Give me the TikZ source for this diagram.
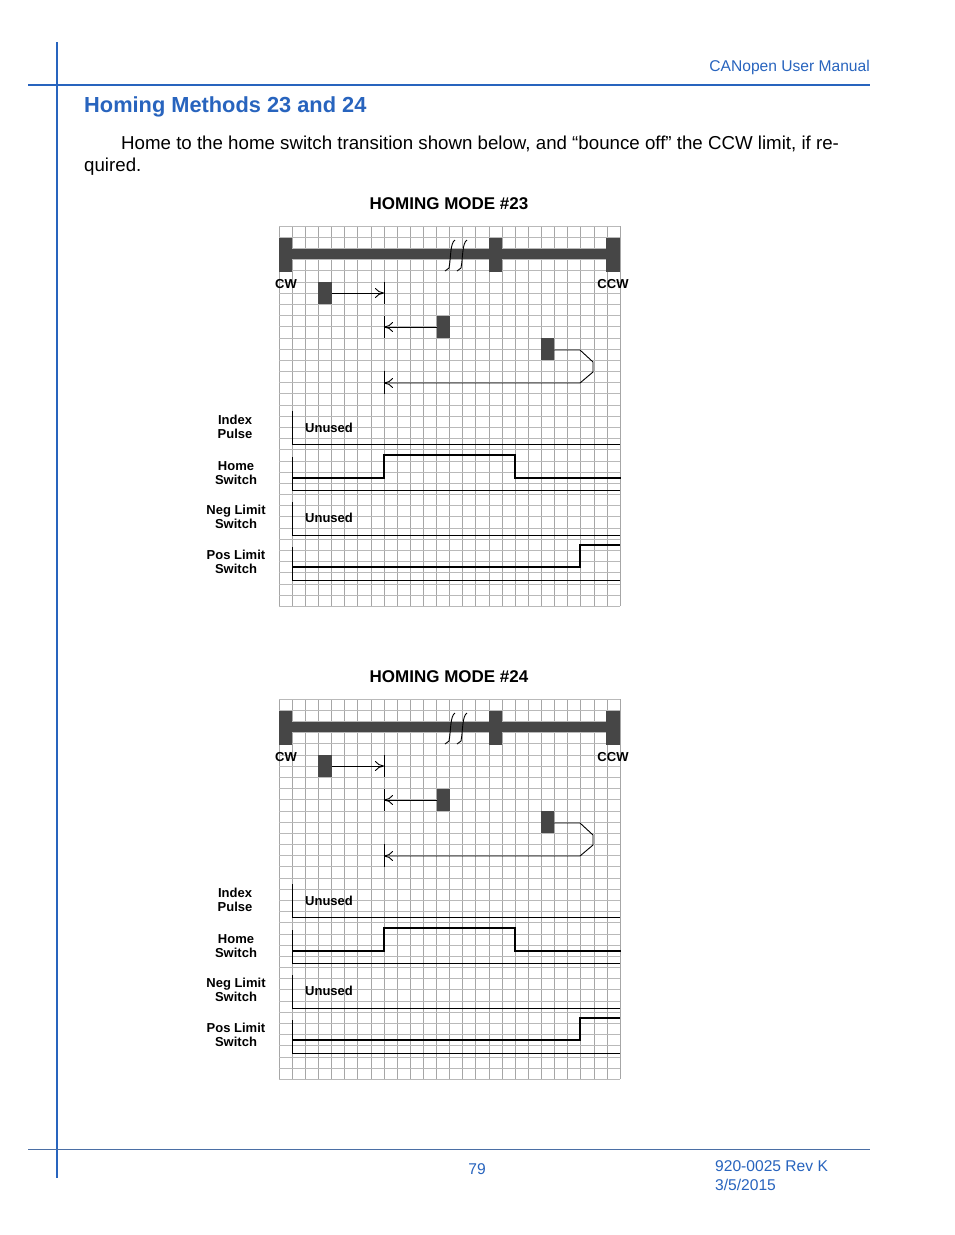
\documentclass[tikz,border=0pt]{standalone}
\usepackage{fontspec}
\setmainfont{Liberation Sans}
\usetikzlibrary{arrows.meta}
\definecolor{blu}{RGB}{40,100,190}
\definecolor{bar}{RGB}{70,70,70}
\tikzset{
 lbl/.style={font=\bfseries\fontsize{13}{14}\selectfont,align=center,inner sep=0pt},
 unused/.style={font=\bfseries\fontsize{13}{14}\selectfont,anchor=west,inner sep=0pt},
 blk/.style={fill=bar,draw=none},
 sig/.style={line width=1.8pt,line join=miter},
 mv/.style={line width=0.9pt,-{To[length=9pt,width=10pt]}},
 tick/.style={line width=1pt},
}
\newcommand{\homingdiag}[2]{%
\begin{scope}[shift={(0,#1)}]
 \node[font=\bfseries\fontsize{17}{19}\selectfont] (t#2) at (449,204) {HOMING MODE \##2};
 \foreach \i in {0,...,26} \draw[gray!70,line width=0.5pt] (279+13.115*\i,226) -- (279+13.115*\i,606);
 \foreach \i in {0,...,34} \draw[gray!55,line width=0.5pt] (279,226+11.18*\i) -- (620,226+11.18*\i);
 \fill[bar] (285,249) rectangle (613,259);
 \fill[blk] (279,238) rectangle (292,272);
 \fill[blk] (489,238) rectangle (502,272);
 \fill[blk] (606,238) rectangle (620,272);
 \draw[line width=0.9pt] (445,271) -- (449,268) .. controls (451,258) and (450,243) .. (455,240);
 \draw[line width=0.9pt] (457,271) -- (461,268) .. controls (463,258) and (462,243) .. (467,240);
 \node[lbl] (cw#2) at (286,284) {CW};
 \node[lbl] (ccw#2) at (613,284) {CCW};
 \fill[blk] (318,282) rectangle (332,304);
 \draw[mv] (332,293) -- (384,293);
 \draw[tick] (384,282) -- (384,304);
 \fill[blk] (437,316) rectangle (450,338);
 \draw[mv] (437,327) -- (384,327);
 \draw[tick] (384,316) -- (384,338);
 \fill[blk] (541,338) rectangle (554,360);
 \draw[mv] (554,350) -- (580,350) -- (593,362) -- (593,372) -- (580,383) -- (384,383);
 \draw[tick] (384,371) -- (384,394);
 \node[lbl] (ip#2) at (235,427) {Index\\Pulse};
 \draw[line width=0.8pt] (292,411) -- (292,444) -- (620,444);
 \node[unused] (u1#2) at (305,428) {Unused};
 \node[lbl] (hs#2) at (236,473) {Home\\Switch};
 \draw[line width=0.8pt] (292,457) -- (292,490) -- (620,490);
 \draw[sig] (292,478) -- (384,478) -- (384,455) -- (515,455) -- (515,478) -- (621,478);
 \node[lbl] (nl#2) at (236,517) {Neg Limit\\Switch};
 \draw[line width=0.8pt] (292,502) -- (292,535) -- (620,535);
 \node[unused] (u2#2) at (305,518) {Unused};
 \node[lbl] (pl#2) at (236,562) {Pos Limit\\Switch};
 \draw[line width=0.8pt] (292,547) -- (292,580) -- (620,580);
 \draw[sig] (292,567) -- (580,567) -- (580,545) -- (620,545);
\end{scope}}
\begin{document}
\begin{tikzpicture}[x=1pt,y=-1pt]
\useasboundingbox (0,0) rectangle (954,1235);
\fill[white] (0,0) rectangle (954,1235);
\draw[blu,line width=1.2pt] (57,42) -- (57,1178);
\draw[blu,line width=1.2pt] (28,85) -- (870,85);
\node[anchor=east,blu,font=\fontsize{15.6}{17}\selectfont,inner sep=0pt] (hdr) at (870,67) {CANopen User Manual};
\node[anchor=west,blu,font=\bfseries\fontsize{21.8}{25}\selectfont,inner sep=0pt] (ttl) at (84,107) {Homing Methods 23 and 24};
\node[anchor=west,font=\fontsize{18.7}{21}\selectfont,inner sep=0pt] (b1) at (121,144) {Home to the home switch transition shown below, and “bounce off” the CCW limit, if re-};
\node[anchor=west,font=\fontsize{18.7}{21}\selectfont,inner sep=0pt] (b2) at (84,167) {quired.};
\homingdiag{0}{23}
\homingdiag{473}{24}
\draw[blu!60!gray,line width=0.6pt] (28,1149) -- (870,1149);
\node[blu,font=\fontsize{15.6}{17}\selectfont,inner sep=0pt] (pg) at (477,1169) {79};
\node[anchor=west,blu,font=\fontsize{15.6}{19}\selectfont,inner sep=0pt,align=left] (ft) at (715,1176) {920-0025 Rev K\\3/5/2015};
\end{tikzpicture}
\end{document}
